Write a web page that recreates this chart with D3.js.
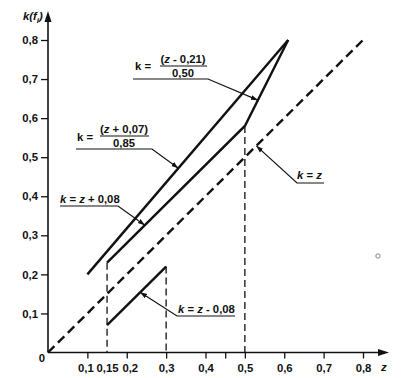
<!DOCTYPE html>
<html><head><meta charset="utf-8">
<script src="https://cdn.jsdelivr.net/npm/d3@7"></script>
<style>
body{margin:0;background:#fff;}
svg{display:block;font-family:"Liberation Sans",Arial,Helvetica,sans-serif;}
</style></head><body>
<svg id="c" width="406" height="378"></svg>
<script>
// ---- data ----
const xTicks = [0.1, 0.15, 0.2, 0.3, 0.4, 0.45, 0.5, 0.6, 0.7, 0.8];
const xTickLabels = ["0,1", "0,15", "0,2", "0,3", "0,4", "", "0,5", "0,6", "0,7", "0,8"];
const yTicks = [0.1, 0.2, 0.3, 0.4, 0.5, 0.6, 0.7, 0.8];
const yTickLabels = ["0,1", "0,2", "0,3", "0,4", "0,5", "0,6", "0,7", "0,8"];
const lineA_z = [0.10, 0.61];           // k = (z + 0,07)/0,85
const lineA_k = [0.20, 0.80];
const lineB_z = [0.15, 0.50, 0.61];     // k = z + 0,08 then k = (z - 0,21)/0,50
const lineB_k = [0.23, 0.58, 0.80];
const lineC_z = [0.15, 0.30];           // k = z - 0,08
const lineC_k = [0.07, 0.22];
const diag_z = [0, 0.8];                // k = z
const diag_k = [0, 0.8];
const vert_z = [0.15, 0.30, 0.50];      // dashed drop lines
const vert_k = [0.23, 0.22, 0.58];
// leader targets: [z, k] on the curves
const leaderZ = [0.533, 0.331, 0.246, 0.529, 0.234];
const leaderK = [(0.533-0.21)/0.5, (0.331+0.07)/0.85, 0.246+0.08, 0.529, 0.234-0.08];

// ---- scales ----
const svg = d3.select("#c");
const x = d3.scaleLinear().domain([0, 0.8]).range([48, 363]);
const y = d3.scaleLinear().domain([0, 0.8]).range([352.5, 40]);
const pts = (zs, ks) => zs.map((z, i) => [z, ks[i]]);
const line = d3.line().x(d => x(d[0])).y(d => y(d[1]));
const FS = "11.3px";

svg.append("defs").append("marker").attr("id","ah").attr("viewBox","0 0 10 10")
  .attr("refX",10).attr("refY",5).attr("markerWidth",7).attr("markerHeight",7)
  .attr("orient","auto").attr("markerUnits","userSpaceOnUse")
  .append("path").attr("d","M0,1.5L10,5L0,8.5Z").attr("fill","#111");

// axes
const xa = svg.append("g").attr("transform", `translate(0,${y(0)})`)
  .call(d3.axisBottom(x).tickValues(xTicks).tickSize(6).tickPadding(5)
    .tickFormat((d, i) => xTickLabels[i]));
const ya = svg.append("g").attr("transform", `translate(${x(0)},0)`)
  .call(d3.axisLeft(y).tickValues(yTicks).tickSize(7).tickPadding(3)
    .tickFormat((d, i) => yTickLabels[i]));
[xa, ya].forEach(g => {
  g.select(".domain").remove();
  g.selectAll("line").attr("stroke", "#111").attr("stroke-width", 1.3);
  g.selectAll("text").attr("fill", "#111").style("font-size", FS).style("font-weight", "bold").style("font-family", "'Liberation Sans',Arial,sans-serif");
});
xa.selectAll(".tick").filter(d => d === 0.15).select("line").remove();
xa.selectAll(".tick").filter(d => d === 0.1).select("text").attr("dx", -2);
xa.selectAll(".tick").filter(d => d === 0.2).select("text").attr("dx", 3);

// axis lines with arrows
svg.append("line").attr("x1", x(0)).attr("y1", y(0)).attr("x2", x(0)).attr("y2", 20)
  .attr("stroke", "#111").attr("stroke-width", 1.6);
svg.append("path").attr("d", `M${x(0)},11 L${x(0)-3.5},22 L${x(0)+3.5},22Z`).attr("fill", "#111");
svg.append("line").attr("x1", x(0)).attr("y1", y(0)).attr("x2", 380).attr("y2", y(0))
  .attr("stroke", "#111").attr("stroke-width", 1.6);
svg.append("path").attr("d", `M389,${y(0)} L378,${y(0)-3.5} L378,${y(0)+3.5}Z`).attr("fill", "#111");

svg.append("text").attr("x", 42).attr("y", 362).attr("text-anchor", "middle")
  .style("font-size", FS).style("font-weight", "bold").attr("fill", "#111").text("0");
// y label k(f_i)
const yl = svg.append("text").attr("x", 23).attr("y", 20).style("font-size", FS)
  .style("font-weight", "bold").style("font-style", "italic").attr("fill", "#111");
yl.append("tspan").text("k(f");
yl.append("tspan").attr("dy", 3).style("font-size", "8px").text("i");
yl.append("tspan").attr("dy", -3).text(")");
svg.append("text").attr("x", 381).attr("y", 371).style("font-size", FS)
  .style("font-weight", "bold").style("font-style", "italic").attr("fill", "#111").text("z");

// drop lines
svg.selectAll(".vl").data(pts(vert_z, vert_k)).enter().append("line")
  .attr("x1", d => x(d[0])).attr("x2", d => x(d[0])).attr("y1", d => y(d[1])).attr("y2", y(0))
  .attr("stroke", "#111").attr("stroke-width", 1.3).attr("stroke-dasharray", "7,4");
// diagonal
svg.append("path").attr("d", line(pts(diag_z, diag_k))).attr("fill", "none")
  .attr("stroke", "#111").attr("stroke-width", 2.4).attr("stroke-dasharray", "9,5");
// solid curves
[pts(lineA_z, lineA_k), pts(lineB_z, lineB_k), pts(lineC_z, lineC_k)].forEach(p => {
  svg.append("path").attr("d", line(p)).attr("fill", "none").attr("stroke", "#111")
    .attr("stroke-width", 2.4).attr("stroke-linejoin", "miter");
});

// labels with leaders
const leaders = [
  [[133, 79], [208, 79]],
  [[76, 149], [152, 149]],
  [[60, 206], [118, 206]],
  [[324, 183], [297, 183]],
  [[235, 316], [177, 316]]
];
leaders.forEach((l, i) => {
  const p = [l[0], l[1], [x(leaderZ[i]), y(leaderK[i])]];
  svg.append("path").attr("d", d3.line()(p)).attr("fill", "none").attr("stroke", "#111")
    .attr("stroke-width", 1.2).attr("marker-end", "url(#ah)");
});

function txt(xp, yp, parts, anchor) {
  const t = svg.append("text").attr("x", xp).attr("y", yp).attr("text-anchor", anchor || "start")
    .style("font-size", FS).style("font-weight", "bold").attr("fill", "#111");
  parts.forEach(p => t.append("tspan").style("font-style", p[1] ? "italic" : "normal").text(p[0]));
  return t;
}
// fraction 1
txt(135, 70, [["k", 0], ["  =", 0]]);
txt(183, 63, [["(", 0], ["z", 1], [" - 0,21)", 0]], "middle");
svg.append("line").attr("x1", 160).attr("x2", 207).attr("y1", 66).attr("y2", 66).attr("stroke", "#111").attr("stroke-width", 1.2);
txt(183, 77, [["0,50", 0]], "middle");
// fraction 2
txt(77, 141, [["k", 0], ["  =", 0]]);
txt(124, 133, [["(", 0], ["z", 1], [" + 0,07)", 0]], "middle");
svg.append("line").attr("x1", 100).attr("x2", 149).attr("y1", 136).attr("y2", 136).attr("stroke", "#111").attr("stroke-width", 1.2);
txt(124, 147, [["0,85", 0]], "middle");
// simple labels
txt(60, 203, [["k", 1], [" = ", 0], ["z", 1], [" + 0,08", 0]]);
txt(297, 179, [["k", 1], [" = ", 0], ["z", 1]]);
txt(178, 313, [["k", 1], [" = ", 0], ["z", 1], [" - 0,08", 0]]);

// small circle mark
svg.append("circle").attr("cx", 378).attr("cy", 256).attr("r", 2.2).attr("fill", "none")
  .attr("stroke", "#888").attr("stroke-width", 1);
</script>
</body></html>
